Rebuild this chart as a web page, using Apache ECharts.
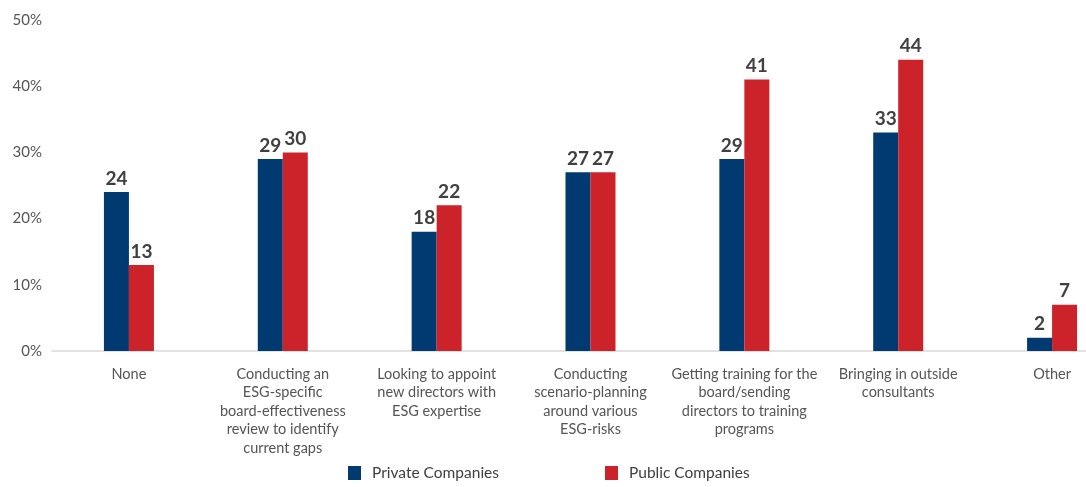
<!DOCTYPE html>
<html>
<head>
<meta charset="utf-8">
<script src="https://cdn.jsdelivr.net/npm/echarts@6/dist/echarts.min.js"></script>
<style>
  html, body { margin: 0; padding: 0; background: #ffffff; overflow: hidden; }
  #chart { width: 1130px; height: 487px; }
</style>
</head>
<body>
<div id="chart"></div>
<script>
// Board actions on ESG, share of respondents (%)
const categories = [
  'None',
  'Conducting an\nESG-specific\nboard-effectiveness\nreview to identify\ncurrent gaps',
  'Looking to appoint\nnew directors with\nESG expertise',
  'Conducting\nscenario-planning\naround various\nESG-risks',
  'Getting training for the\nboard/sending\ndirectors to training\nprograms',
  'Bringing in outside\nconsultants',
  'Other'
];
const privateCompanies = [24, 29, 18, 27, 29, 33, 2];
const publicCompanies = [13, 30, 22, 27, 41, 44, 7];
const yTicks = [0, 10, 20, 30, 40, 50];

const FONT = 'Lato, "Open Sans", sans-serif';
const NAVY = '#003a70';
const RED = '#cc2229';

// The last category column runs past the right edge of the visible area.
const chart = echarts.init(document.getElementById('chart'), null, { renderer: 'canvas' });

const valueLabel = {
  show: true,
  position: 'top',
  distance: 4,
  color: '#404040',
  fontFamily: FONT,
  fontWeight: 'bold',
  fontSize: 19
};

chart.setOption({
  animation: false,
  backgroundColor: '#ffffff',
  grid: { left: 52, top: 20, right: 1, height: 331, containLabel: false },
  legend: {
    bottom: 1,
    left: 343,
    itemWidth: 13,
    itemHeight: 14,
    itemGap: 106,
    icon: 'rect',
    textStyle: { color: '#404040', fontFamily: FONT, fontSize: 15.5, padding: [0, 0, 0, 6] },
    data: ['Private Companies', 'Public Companies']
  },
  xAxis: {
    type: 'category',
    data: categories,
    axisLine: { lineStyle: { color: '#d9d9d9', width: 1.5 } },
    axisTick: { show: false },
    axisLabel: {
      interval: 0,
      margin: 14,
      color: '#555555',
      fontFamily: FONT,
      fontSize: 14.5,
      lineHeight: 18.5,
      align: 'center'
    }
  },
  yAxis: {
    type: 'value',
    min: yTicks[0],
    max: yTicks[yTicks.length - 1],
    interval: 10,
    splitLine: { show: false },
    axisLine: { show: false },
    axisTick: { show: false },
    axisLabel: {
      margin: 10,
      color: '#555555',
      fontFamily: FONT,
      fontSize: 15,
      formatter: v => v + '%'
    }
  },
  series: [
    {
      name: 'Private Companies',
      type: 'bar',
      data: privateCompanies,
      barWidth: 25,
      barGap: '0%',
      itemStyle: { color: NAVY },
      label: valueLabel
    },
    {
      name: 'Public Companies',
      type: 'bar',
      data: publicCompanies,
      barWidth: 25,
      barGap: '0%',
      itemStyle: { color: RED },
      label: valueLabel
    }
  ]
});
</script>
</body>
</html>
